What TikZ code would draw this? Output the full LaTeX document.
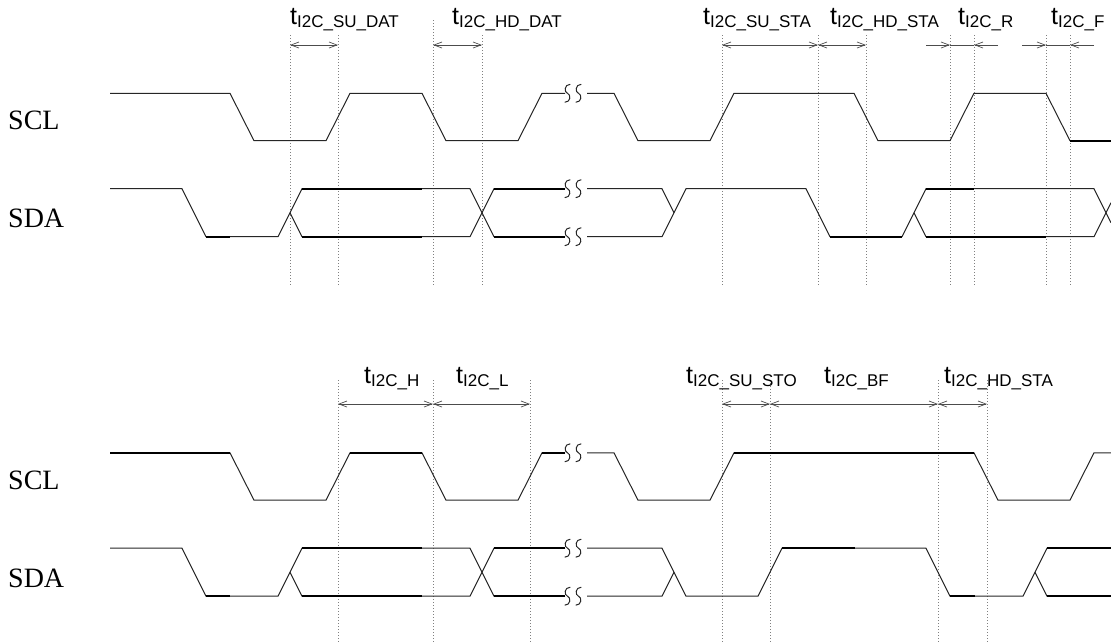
\documentclass[tikz,border=0pt]{standalone}
\usepackage{fontspec}
\setmainfont{Liberation Sans}
\newfontfamily\sigfont{Liberation Serif}
\usetikzlibrary{arrows.meta}

% break mark: two small S curves centred on (#1,#2)
\newcommand{\brkmark}[2]{%
  \foreach \cx in {#1+2.5, #1+13.5} {
    \draw[wave] (\cx+2.8,#2-9) .. controls (\cx-3.5,#2-9) and (\cx-3.5,#2-1) .. (\cx,#2)
      .. controls (\cx+3.5,#2+1) and (\cx+3.5,#2+9) .. (\cx-2.8,#2+9);
  }%
}
\newcommand{\tlab}[1]{t\raisebox{-3pt}{\fontsize{17}{17}\selectfont #1}}

\tikzset{
  wave/.style={line width=1pt, draw=black!85},
  wavebold/.style={line width=1.7pt, draw=black},
  guide/.style={draw=black!50, line width=0.8pt, dash pattern=on 1pt off 2pt},
  dimline/.style={draw=black!70, line width=0.7pt},
  dimarrow/.style={dimline, {Straight Barb[length=8pt,width=6pt]}-{Straight Barb[length=8pt,width=6pt]}},
  tickarrow/.style={dimline, -{Straight Barb[length=8pt,width=6pt]}},
  siglabel/.style={anchor=base west, inner sep=0pt, font=\sigfont\fontsize{28}{28}\selectfont},
  timelabel/.style={anchor=base west, inner sep=0pt, font=\fontsize{25}{25}\selectfont},
}

\begin{document}
\begin{tikzpicture}[x=1pt, y=-1pt]
    \useasboundingbox (0,0) rectangle (1111,643);

    % ---------------- upper diagram ----------------
    \foreach \xx in {290,338,482,722,818,866,950,974,1046,1070}
      \draw[guide] (\xx,35) -- (\xx,285);
    \draw[guide] (433,20) -- (433,285);

    \coordinate (a1) at (290,45);
    \coordinate (a2) at (338,45);
    \coordinate (a3) at (433,45);
    \coordinate (a4) at (482,45);
    \coordinate (a5) at (722,45);
    \coordinate (a6) at (818,45);
    \coordinate (a7) at (866,45);
    \coordinate (r0) at (926,45);
    \coordinate (r1) at (950,45);
    \coordinate (r2) at (974,45);
    \coordinate (r3) at (998,45);
    \coordinate (f0) at (1022,45);
    \coordinate (f1) at (1046,45);
    \coordinate (f2) at (1070,45);
    \coordinate (f3) at (1094,45);
    \draw[dimarrow] (a1) -- (a2);
    \draw[dimarrow] (a3) -- (a4);
    \draw[dimarrow] (a5) -- (a6);
    \draw[dimarrow] (a6) -- (a7);
    \draw[tickarrow] (r0) -- (r1);
    \draw[tickarrow] (r3) -- (r2);
    \draw[dimline] (r1) -- (r2);
    \draw[tickarrow] (f0) -- (f1);
    \draw[tickarrow] (f3) -- (f2);
    \draw[dimline] (f1) -- (f2);

    \node[timelabel] (tsudat) at (290,24) {\tlab{I2C\_SU\_DAT}};
    \node[timelabel] (thddat) at (452,24) {\tlab{I2C\_HD\_DAT}};
    \node[timelabel] (tsusta) at (703,24) {\tlab{I2C\_SU\_STA}};
    \node[timelabel] (thdsta) at (830,24) {\tlab{I2C\_HD\_STA}};
    \node[timelabel] (trise) at (958,24) {\tlab{I2C\_R}};
    \node[timelabel] (tfall) at (1051,24) {\tlab{I2C\_F}};

    \node[siglabel] (sclA) at (8,129) {SCL};
    \node[siglabel] (sdaA) at (8,227) {SDA};

    % SCL
    \draw[wave] (110,93.3) -- (230,93.3) -- (254,140.7) -- (326,140.7) -- (350,93.3)
      -- (422,93.3) -- (446,140.7) -- (518,140.7) -- (542,93.3) -- (565,93.3);
    \brkmark{565}{93.3}
    \draw[wave] (587,93.3) -- (614,93.3) -- (638,140.7) -- (710,140.7) -- (734,93.3)
      -- (854,93.3) -- (878,140.7) -- (950,140.7) -- (974,93.3) -- (1046,93.3)
      -- (1070,140.7) -- (1111,140.7);
    % SDA
    \draw[wave] (110,188.7) -- (182,188.7) -- (206,236.7) -- (278,236.7) -- (302,188.7)
      -- (470,188.7) -- (494,236.7) -- (565,236.7);
    \draw[wave] (290,212.7) -- (302,236.7) -- (470,236.7) -- (494,188.7) -- (565,188.7);
    \brkmark{565}{188.7}
    \brkmark{565}{236.7}
    \draw[wave] (587,188.7) -- (662,188.7) -- (674,212.7);
    \draw[wave] (587,236.7) -- (662,236.7) -- (686,188.7) -- (806,188.7) -- (830,236.7)
      -- (902,236.7) -- (926,188.7) -- (1094,188.7) -- (1111,222.7);
    \draw[wave] (914,212.7) -- (926,236.7) -- (1094,236.7) -- (1111,202.7);
    \foreach \xa/\xb/\yy in {206/230/236.7, 302/422/188.7, 302/422/236.7,
        494/565/188.7, 494/565/236.7, 830/902/236.7, 926/974/188.7,
        926/1046/236.7, 1070/1111/140.7}
      \draw[wavebold] (\xa,\yy) -- (\xb,\yy);

    % ---------------- lower diagram ----------------
    \foreach \xx in {338,433,530,722,770,938,987}
      \draw[guide] (\xx,380) -- (\xx,643);

    \coordinate (b1) at (338,404);
    \coordinate (b2) at (433,404);
    \coordinate (b3) at (530,404);
    \coordinate (b4) at (722,404);
    \coordinate (b5) at (770,404);
    \coordinate (b6) at (938,404);
    \coordinate (b7) at (987,404);
    \draw[dimarrow] (b1) -- (b2);
    \draw[dimarrow] (b2) -- (b3);
    \draw[dimarrow] (b4) -- (b5);
    \draw[dimarrow] (b5) -- (b6);
    \draw[dimarrow] (b6) -- (b7);

    \node[timelabel] (thigh) at (364,383) {\tlab{I2C\_H}};
    \node[timelabel] (tlow) at (456,383) {\tlab{I2C\_L}};
    \node[timelabel] (tsusto) at (686,383) {\tlab{I2C\_SU\_STO}};
    \node[timelabel] (tbf) at (824,383) {\tlab{I2C\_BF}};
    \node[timelabel] (thdstaB) at (944,383) {\tlab{I2C\_HD\_STA}};

    \node[siglabel] (sclB) at (8,489) {SCL};
    \node[siglabel] (sdaB) at (8,587) {SDA};

    \begin{scope}[shift={(0,359.5)}]
      % SCL
      \draw[wave] (110,93.3) -- (230,93.3) -- (254,140.7) -- (326,140.7) -- (350,93.3)
        -- (422,93.3) -- (446,140.7) -- (518,140.7) -- (542,93.3) -- (565,93.3);
      \brkmark{565}{93.3}
      \draw[wave] (587,93.3) -- (614,93.3) -- (638,140.7) -- (710,140.7) -- (734,93.3)
        -- (974,93.3) -- (998,140.7) -- (1070,140.7) -- (1094,93.3) -- (1111,93.3);
      % SDA
      \draw[wave] (110,188.7) -- (182,188.7) -- (206,236.7) -- (278,236.7) -- (302,188.7)
        -- (470,188.7) -- (494,236.7) -- (565,236.7);
      \draw[wave] (290,212.7) -- (302,236.7) -- (470,236.7) -- (494,188.7) -- (565,188.7);
      \brkmark{565}{188.7}
      \brkmark{565}{236.7}
      \draw[wave] (587,188.7) -- (662,188.7) -- (686,236.7) -- (758,236.7) -- (782,188.7)
        -- (926,188.7) -- (950,236.7) -- (1023,236.7) -- (1047,188.7) -- (1111,188.7);
      \draw[wave] (587,236.7) -- (662,236.7) -- (674,212.7);
      \draw[wave] (1035,212.7) -- (1047,236.7) -- (1111,236.7);
      \foreach \xa/\xb/\yy in {110/230/93.3, 350/422/93.3, 542/565/93.3, 734/974/93.3,
          206/230/236.7, 302/422/188.7, 302/422/236.7, 494/565/188.7, 494/565/236.7,
          782/855/188.7, 950/975/236.7, 1047/1111/188.7, 1047/1111/236.7}
        \draw[wavebold] (\xa,\yy) -- (\xb,\yy);
    \end{scope}
\end{tikzpicture}
\end{document}
